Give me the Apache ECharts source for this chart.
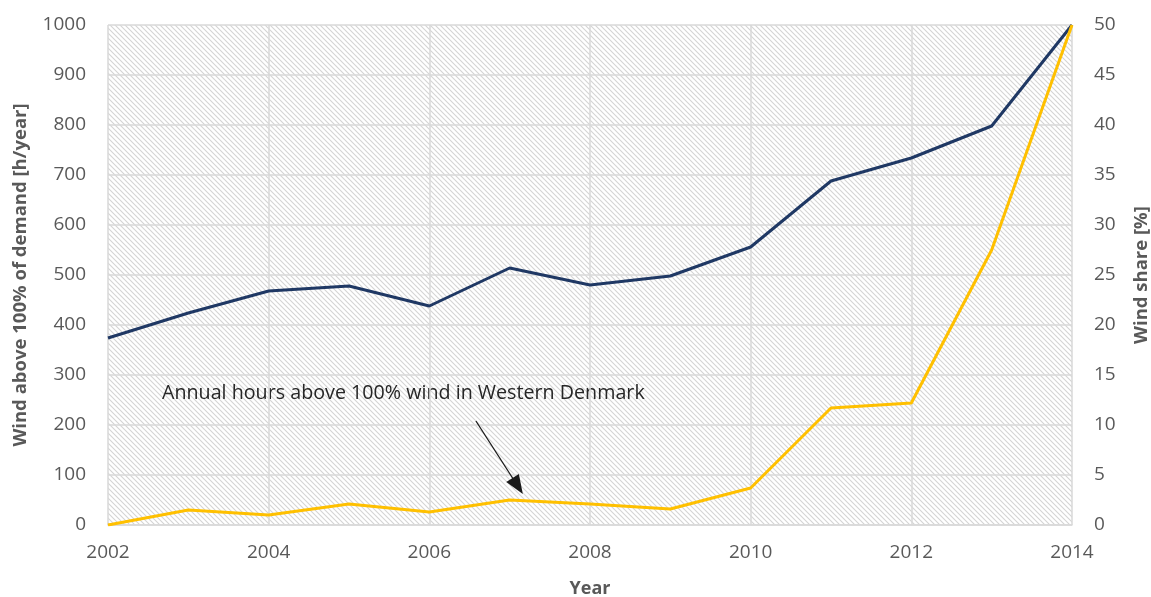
<!DOCTYPE html>
<html><head><meta charset="utf-8">
<script src="https://cdn.jsdelivr.net/npm/echarts@6/dist/echarts.min.js"></script>
<style>html,body{margin:0;padding:0;background:#fff}#c{width:1151px;height:597px}</style>
</head><body><div id="c"></div>
<script>
var years = [2002,2003,2004,2005,2006,2007,2008,2009,2010,2011,2012,2013,2014];
var hoursAbove100 = [0,30,20,42,26,50,42,32,74,234,244,550,1000];
var windShare = [18.7,21.2,23.4,23.9,21.9,25.7,24.0,24.9,27.8,34.4,36.7,39.9,50];
var annotationText = 'Annual hours above 100% wind in Western Denmark';

var font = 'Open Sans';
var tile = document.createElement('canvas');
tile.width = 5; tile.height = 5;
var g = tile.getContext('2d');
g.fillStyle = '#ffffff'; g.fillRect(0,0,5,5);
g.strokeStyle = '#d4d4d4'; g.lineWidth = 1.1;
g.beginPath();
g.moveTo(-1,-1); g.lineTo(6,6);
g.moveTo(-1,4); g.lineTo(1,6);
g.moveTo(4,-1); g.lineTo(6,1);
g.stroke();

var chart = echarts.init(document.getElementById('c'), null, {renderer:'canvas'});
var axisLabelStyle = {color:'#595959', fontFamily:font, fontSize:19};
var plain = function(v){ return String(v); };
chart.setOption({
  animation:false,
  grid:{left:108,right:79,top:25,bottom:72,show:true,borderWidth:0,containLabel:false,outerBoundsMode:'none',
    backgroundColor:{image:tile,repeat:'repeat'}},
  xAxis:{type:'value',min:2002,max:2014,interval:2,
    name:'Year',nameLocation:'middle',nameGap:55,
    nameTextStyle:{color:'#595959',fontFamily:font,fontSize:18,fontWeight:'bold'},
    axisLine:{show:true,lineStyle:{color:'#d9d9d9',width:1.5}},axisTick:{show:false},
    axisLabel:Object.assign({margin:18,formatter:plain},axisLabelStyle),
    splitLine:{show:true,lineStyle:{color:'#d9d9d9',width:1.5}}},
  yAxis:[{type:'value',min:0,max:1000,interval:100,
    name:'Wind above 100% of demand [h/year]',nameLocation:'middle',nameGap:78,
    nameTextStyle:{color:'#595959',fontFamily:font,fontSize:18.5,fontWeight:'bold'},
    axisLine:{show:false},axisTick:{show:false},
    axisLabel:Object.assign({margin:22,formatter:plain},axisLabelStyle),
    splitLine:{show:true,lineStyle:{color:'#d9d9d9',width:1.5}}},
   {type:'value',min:0,max:50,interval:5,position:'right',
    name:'Wind share [%]',nameLocation:'middle',nameGap:60,nameRotate:90,
    nameTextStyle:{color:'#595959',fontFamily:font,fontSize:18.5,fontWeight:'bold'},
    axisLine:{show:false},axisTick:{show:false},
    axisLabel:Object.assign({margin:22,formatter:plain},axisLabelStyle),
    splitLine:{show:false}}],
  graphic:[{type:'text',left:162,top:383,style:{text:annotationText,fill:'#262626',font:'19.7px "'+font+'"'}}],
  series:[
    {name:'Wind share',type:'line',yAxisIndex:1,data:years.map(function(y,i){return [y,windShare[i]];}),
     showSymbol:false,lineStyle:{color:'#1f3864',width:3},itemStyle:{color:'#1f3864'},z:3},
    {name:'Hours above 100%',type:'line',yAxisIndex:0,data:years.map(function(y,i){return [y,hoursAbove100[i]];}),
     showSymbol:false,lineStyle:{color:'#ffc000',width:3},itemStyle:{color:'#ffc000'},z:4,
     markLine:{silent:true,symbol:['none','triangle'],symbolSize:[15,19],label:{show:false},
       lineStyle:{color:'#1a1a1a',width:1.3,type:'solid'},
       data:[[{coord:[2006.58,208]},{coord:[2007.1,78]}]]}}
  ]
});
</script></body></html>
